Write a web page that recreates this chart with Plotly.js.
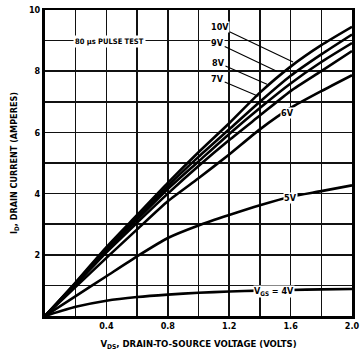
<!DOCTYPE html>
<html>
<head>
<meta charset="utf-8">
<script src="https://cdn.plot.ly/plotly-3.0.1.min.js"></script>
<style>html,body{margin:0;padding:0;background:#fff;}#chart{width:362px;height:358px;}</style>
</head>
<body>
<div id="chart"></div>
<script>
// Drain-to-source voltage (V)
const vds = [0, 0.2, 0.4, 0.6, 0.8, 1.0, 1.2, 1.4, 1.6, 1.8, 2.0];
// Drain current (A) for each gate-source voltage
const id10 = [0, 1.10, 2.25, 3.30, 4.35, 5.35, 6.30, 7.30, 8.15, 8.85, 9.45];
const id9  = [0, 1.08, 2.20, 3.22, 4.25, 5.20, 6.10, 7.00, 7.85, 8.55, 9.20];
const id8  = [0, 1.05, 2.15, 3.15, 4.15, 5.05, 5.95, 6.80, 7.60, 8.30, 8.92];
const id7  = [0, 1.02, 2.08, 3.05, 4.00, 4.90, 5.75, 6.55, 7.35, 8.00, 8.66];
const id6  = [0, 0.95, 1.90, 2.83, 3.75, 4.50, 5.28, 6.10, 6.80, 7.35, 7.87];
const id5  = [0, 0.65, 1.30, 1.95, 2.55, 2.96, 3.30, 3.62, 3.90, 4.08, 4.27];
const id4  = [0, 0.30, 0.50, 0.62, 0.70, 0.76, 0.80, 0.83, 0.85, 0.87, 0.88];

// Tick labels
const xTickVals = [0, 0.2, 0.4, 0.6, 0.8, 1.0, 1.2, 1.4, 1.6, 1.8, 2.0];
const xTickText = ['', '', '0.4', '', '0.8', '', '1.2', '', '1.6', '', '2.0'];
const yTickVals = [0, 1, 2, 3, 4, 5, 6, 7, 8, 9, 10];
const yTickText = ['', '', '2', '', '4', '', '6', '', '8', '', '10'];

// Curve labels with leader lines
const leaderNames = ['10V', '9V', '8V', '7V'];
const leaderTextX = [1.14, 1.125, 1.13, 1.125];
const leaderTextY = [9.44, 8.92, 8.27, 7.74];
const leaderEndX  = [1.616, 1.51, 1.446, 1.39];
const leaderEndY  = [8.30, 8.00, 7.57, 7.18];

const series = [id10, id9, id8, id7, id6, id5, id4];

const FONT = 'Liberation Sans Narrow, Arial Narrow, DejaVu Sans Condensed, sans-serif';

const traces = series.map(s => ({
  x: vds, y: s, type: 'scatter', mode: 'lines',
  line: {color: '#000', width: 2.6, shape: 'spline', smoothing: 0.6},
  hoverinfo: 'skip', showlegend: false
}));

const annotations = [];
leaderNames.forEach((n, i) => {
  annotations.push({
    x: leaderEndX[i], y: leaderEndY[i], xref: 'x', yref: 'y',
    ax: leaderTextX[i], ay: leaderTextY[i], axref: 'x', ayref: 'y',
    text: n, showarrow: true, arrowhead: 0, arrowwidth: 1.1, arrowcolor: '#000',
    font: {family: FONT, size: 9, color: '#000', weight: 'bold'},
    bgcolor: '#fff', borderpad: 0
  });
});
annotations.push({x: 1.58, y: 6.62, xref: 'x', yref: 'y', text: '6V', showarrow: false,
  font: {family: FONT, size: 9, color: '#000', weight: 'bold'}, bgcolor: '#fff', borderpad: 0});
annotations.push({x: 1.60, y: 3.86, xref: 'x', yref: 'y', text: '5V', showarrow: false,
  font: {family: FONT, size: 9, color: '#000', weight: 'bold'}, bgcolor: '#fff', borderpad: 0});
annotations.push({x: 1.49, y: 0.80, xref: 'x', yref: 'y', text: 'V<sub>GS</sub> = 4V', showarrow: false,
  font: {family: FONT, size: 9, color: '#000', weight: 'bold'}, bgcolor: '#fff', borderpad: 0});
annotations.push({x: 0.42, y: 8.98, xref: 'x', yref: 'y', text: '80 µs PULSE TEST', showarrow: false,
  font: {family: FONT, size: 7.5, color: '#000', weight: 'bold'}, bgcolor: '#fff', borderpad: 1});
annotations.push({x: -0.065, y: -0.45, xref: 'x', yref: 'y', text: '0', showarrow: false,
  font: {family: FONT, size: 9, color: '#000', weight: 'bold'}});

const layout = {
  width: 362, height: 358,
  margin: {l: 45, r: 10, t: 10, b: 42},
  paper_bgcolor: '#fff', plot_bgcolor: '#fff',
  showlegend: false,
  xaxis: {
    range: [0, 2], tickvals: xTickVals, ticktext: xTickText,
    showgrid: true, gridcolor: '#111', gridwidth: 1.5,
    zeroline: false, showline: true, linecolor: '#000', linewidth: 2.5, mirror: true,
    ticks: '', ticklen: 0, tickfont: {family: FONT, size: 9, color: '#000', weight: 'bold'},
    title: {text: 'V<sub>DS</sub>, DRAIN-TO-SOURCE VOLTAGE (VOLTS)', standoff: 10,
      font: {family: FONT, size: 9.5, color: '#000', weight: 'bold'}},
    fixedrange: true
  },
  yaxis: {
    range: [0, 10], tickvals: yTickVals, ticktext: yTickText,
    showgrid: true, gridcolor: '#111', gridwidth: 1.5,
    zeroline: false, showline: true, linecolor: '#000', linewidth: 3, mirror: true,
    ticks: '', tickfont: {family: FONT, size: 9, color: '#000', weight: 'bold'},
    title: {text: 'I<sub>D</sub>, DRAIN CURRENT (AMPERES)', standoff: 10,
      font: {family: FONT, size: 9, color: '#000', weight: 'bold'}},
    fixedrange: true
  },
  annotations: annotations
};

Plotly.newPlot('chart', traces, layout, {displayModeBar: false, staticPlot: true});
</script>
</body>
</html>
